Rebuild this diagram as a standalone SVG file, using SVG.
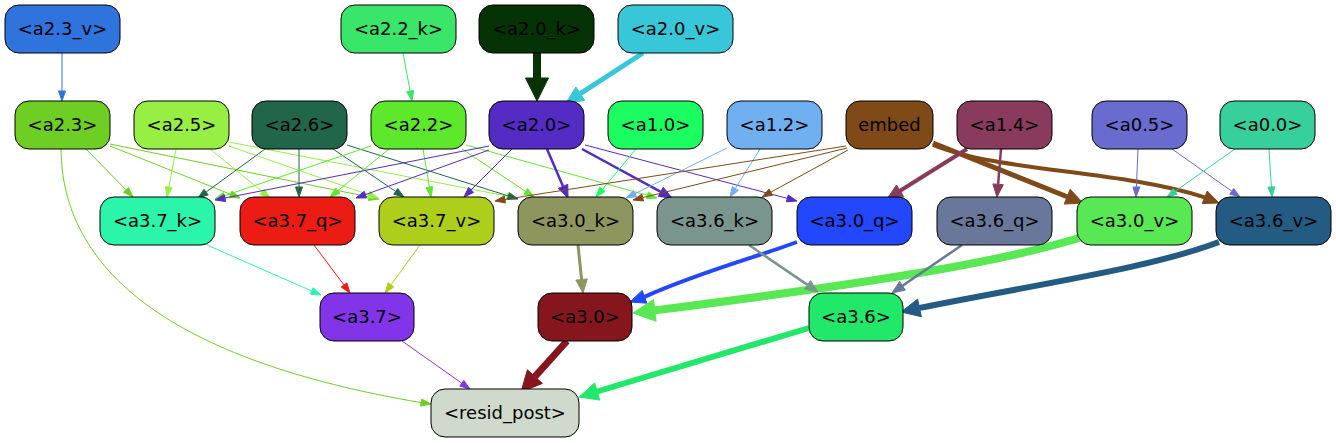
<svg xmlns="http://www.w3.org/2000/svg" width="1336" height="443" viewBox="0 0 1336 443">
<style>
.node rect{stroke:#000;stroke-width:1}
.node text{font-family:"DejaVu Sans","Liberation Sans",sans-serif;font-size:18px;text-anchor:middle;fill:#000}
#connectors path{fill:none}
</style>
<rect width="1336" height="443" fill="#fff"/>
<g id="connectors">
<g stroke="#2f74dd" fill="#2f74dd"><path d="M62,53 L62,91"/><polygon points="62,101 58.5,91 65.5,91"/></g>
<g stroke="#3ae66a" fill="#3ae66a"><path d="M403,53 L410.2,91.2"/><polygon points="412,101 406.7,91.8 413.6,90.5"/></g>
<g stroke="#063305" fill="#063305"><path d="M537,53 L537,78" stroke-width="8"/><polygon points="537,101 525.5,78 548.5,78"/></g>
<g stroke="#38c6d9" fill="#38c6d9"><path d="M643,53 L580.3,93.7" stroke-width="5"/><polygon points="566,103 575.9,87 584.7,100.4"/></g>
<g stroke="#6fce23" fill="#6fce23"><path d="M86,149 L126,189.9"/><polygon points="133,197 123.5,192.3 128.5,187.4"/></g>
<g stroke="#6fce23" fill="#6fce23"><path d="M110,146 L230.7,194.3"/><polygon points="240,198 229.4,197.5 232,191"/></g>
<g stroke="#6fce23" fill="#6fce23"><path d="M110,144 L369.2,197"/><polygon points="379,199 368.5,200.4 369.9,193.6"/></g>
<g stroke="#6fce23" fill="#6fce23"><path d="M61,149 C62,270 170,360 421.1,402.6"/><polygon points="431,404 420.6,406.1 421.6,399.1"/></g>
<g stroke="#97ef44" fill="#97ef44"><path d="M176,149 L168.8,187.2"/><polygon points="167,197 165.4,186.5 172.2,187.8"/></g>
<g stroke="#97ef44" fill="#97ef44"><path d="M210,149 L262.3,191.7"/><polygon points="270,198 260.1,194.4 264.5,189"/></g>
<g stroke="#97ef44" fill="#97ef44"><path d="M229,146 L368.6,194.7"/><polygon points="378,198 367.4,198 369.8,191.4"/></g>
<g stroke="#97ef44" fill="#97ef44"><path d="M229,142 L507.2,196.1"/><polygon points="517,198 506.5,199.5 507.9,192.7"/></g>
<g stroke="#21654a" fill="#21654a"><path d="M265,149 L206.1,192.1"/><polygon points="198,198 204,189.3 208.2,194.9"/></g>
<g stroke="#21654a" fill="#21654a"><path d="M299,149 L299,187"/><polygon points="299,197 295.5,187 302.5,187"/></g>
<g stroke="#21654a" fill="#21654a"><path d="M333,149 L395.7,191.4"/><polygon points="404,197 393.7,194.3 397.7,188.5"/></g>
<g stroke="#21654a" fill="#21654a"><path d="M347,145 L508.5,196"/><polygon points="518,199 507.4,199.3 509.5,192.7"/></g>
<g stroke="#5de82c" fill="#5de82c"><path d="M371,146 L224.5,195.8"/><polygon points="215,199 223.4,192.5 225.6,199.1"/></g>
<g stroke="#5de82c" fill="#5de82c"><path d="M389,149 L337.8,190.7"/><polygon points="330,197 335.6,188 340,193.4"/></g>
<g stroke="#5de82c" fill="#5de82c"><path d="M423,149 L429.4,187.1"/><polygon points="431,197 425.9,187.7 432.8,186.5"/></g>
<g stroke="#5de82c" fill="#5de82c"><path d="M462,149 L525.7,191.5"/><polygon points="534,197 523.8,194.4 527.6,188.6"/></g>
<g stroke="#5de82c" fill="#5de82c"><path d="M466,145 L647.4,195.3"/><polygon points="657,198 646.5,198.7 648.3,191.9"/></g>
<g stroke="#542cc4" fill="#542cc4"><path d="M489,146 L224.8,198.1"/><polygon points="215,200 224.1,194.7 225.5,201.5"/></g>
<g stroke="#542cc4" fill="#542cc4"><path d="M489,150 L365.4,194.6"/><polygon points="356,198 364.2,191.3 366.6,197.9"/></g>
<g stroke="#542cc4" fill="#542cc4"><path d="M513,148 L471.1,189.9"/><polygon points="464,197 468.6,187.4 473.6,192.4"/></g>
<g stroke="#542cc4" fill="#542cc4"><path d="M547,149 L563,186.3" stroke-width="2.5"/><polygon points="568,198 558.2,188.4 567.8,184.3"/></g>
<g stroke="#542cc4" fill="#542cc4"><path d="M582,149 L660.8,191.9" stroke-width="2.5"/><polygon points="672,198 658.3,196.5 663.3,187.3"/></g>
<g stroke="#542cc4" fill="#542cc4"><path d="M585,145 L787.3,198.4"/><polygon points="797,201 786.4,201.8 788.2,195"/></g>
<g stroke="#1cfd62" fill="#1cfd62"><path d="M636,149 L602.4,189.3"/><polygon points="596,197 599.7,187.1 605.1,191.5"/></g>
<g stroke="#70b0f0" fill="#70b0f0"><path d="M727,148 L635,193.6"/><polygon points="626,198 633.4,190.5 636.6,196.7"/></g>
<g stroke="#70b0f0" fill="#70b0f0"><path d="M760,149 L735.3,188.5"/><polygon points="730,197 732.3,186.6 738.3,190.4"/></g>
<g stroke="#804a18" fill="#804a18"><path d="M846,146 L504.9,199.4"/><polygon points="495,201 504.4,195.9 505.4,202.9"/></g>
<g stroke="#804a18" fill="#804a18"><path d="M847,148 L642.7,197.6"/><polygon points="633,200 641.9,194.2 643.5,201"/></g>
<g stroke="#804a18" fill="#804a18"><path d="M848,150 L770.8,192.2"/><polygon points="762,197 769.1,189.1 772.5,195.3"/></g>
<g stroke="#804a18" fill="#804a18"><path d="M933,143 L1067.2,196.7" stroke-width="5"/><polygon points="1083,203 1064.2,204.1 1070.2,189.3"/></g>
<g stroke="#804a18" fill="#804a18"><path d="M933,145 C1000,172 1120,170 1204.7,197.3" stroke-width="4"/><polygon points="1219,203 1202.2,203.6 1207.2,191"/></g>
<g stroke="#883b5c" fill="#883b5c"><path d="M967,149 L900.1,190.8" stroke-width="4"/><polygon points="887,199 896.5,185 903.7,196.6"/></g>
<g stroke="#883b5c" fill="#883b5c"><path d="M1001,149 L998.1,184.3" stroke-width="2.5"/><polygon points="997,197 992.9,183.9 1003.3,184.7"/></g>
<g stroke="#696bcf" fill="#696bcf"><path d="M1138,149 L1136.4,187"/><polygon points="1136,197 1132.9,187.1 1139.9,186.9"/></g>
<g stroke="#696bcf" fill="#696bcf"><path d="M1172,149 L1231.8,191.2"/><polygon points="1240,197 1229.8,194.1 1233.8,188.4"/></g>
<g stroke="#37cf9c" fill="#37cf9c"><path d="M1235,149 L1175.2,191.2"/><polygon points="1167,197 1173.2,188.4 1177.2,194.1"/></g>
<g stroke="#37cf9c" fill="#37cf9c"><path d="M1269,149 L1271.4,187"/><polygon points="1272,197 1267.9,187.2 1274.9,186.8"/></g>
<g stroke="#2af5aa" fill="#2af5aa"><path d="M207,245 L311.8,291"/><polygon points="321,295 310.4,294.2 313.2,287.8"/></g>
<g stroke="#eb1c14" fill="#eb1c14"><path d="M314,245 L344,285"/><polygon points="350,293 341.2,287.1 346.8,282.9"/></g>
<g stroke="#adce1a" fill="#adce1a"><path d="M420,245 L390.9,284.9"/><polygon points="385,293 388.1,282.8 393.7,287"/></g>
<g stroke="#8e955e" fill="#8e955e"><path d="M578,245 L581.6,279.5" stroke-width="3"/><polygon points="583,293 575.9,280.1 587.3,278.9"/></g>
<g stroke="#2247fc" fill="#2247fc"><path d="M797,242 C760,256 700,272 644.5,296.8" stroke-width="4"/><polygon points="630,302 642.2,290.4 646.8,303.2"/></g>
<g stroke="#57e854" fill="#57e854"><path d="M1079,238 C1000,262 880,282 654.8,310.4" stroke-width="8"/><polygon points="633,313 653.5,299.5 656.1,321.3"/></g>
<g stroke="#7a958e" fill="#7a958e"><path d="M749,245 L807.5,284.9" stroke-width="2.5"/><polygon points="818,292 804.6,289.2 810.4,280.6"/></g>
<g stroke="#69779a" fill="#69779a"><path d="M962,245 L902.5,285.8" stroke-width="2.5"/><polygon points="892,293 899.6,281.5 905.4,290.1"/></g>
<g stroke="#235b82" fill="#235b82"><path d="M1219,242 C1150,268 1050,282 919.5,307.9" stroke-width="6"/><polygon points="901,312 917.6,299.1 921.4,316.7"/></g>
<g stroke="#8235e8" fill="#8235e8"><path d="M402,341 L461.8,383.2"/><polygon points="470,389 459.8,386.1 463.8,380.4"/></g>
<g stroke="#86161e" fill="#86161e"><path d="M567,341 L534.9,376.6" stroke-width="7"/><polygon points="521,392 527.4,369.8 542.4,383.4"/></g>
<g stroke="#22e86a" fill="#22e86a"><path d="M809,328 L597.2,391.5" stroke-width="6"/><polygon points="579,397 594.6,382.9 599.8,400.1"/></g>
</g>
<g id="a2.3_v" class="node"><rect x="5" y="5" width="115" height="48" rx="14" fill="#2f74dd"/><text x="62.5" y="35">&lt;a2.3_v&gt;</text></g>
<g id="a2.2_k" class="node"><rect x="341" y="5" width="115" height="48" rx="14" fill="#3ae66a"/><text x="398.5" y="35">&lt;a2.2_k&gt;</text></g>
<g id="a2.0_k" class="node"><rect x="479" y="5" width="115" height="48" rx="14" fill="#063305"/><text x="536.5" y="35">&lt;a2.0_k&gt;</text></g>
<g id="a2.0_v" class="node"><rect x="618" y="5" width="115" height="48" rx="14" fill="#38c6d9"/><text x="675.5" y="35">&lt;a2.0_v&gt;</text></g>
<g id="a2.3" class="node"><rect x="15" y="101" width="95" height="48" rx="14" fill="#6fce23"/><text x="62.5" y="131">&lt;a2.3&gt;</text></g>
<g id="a2.5" class="node"><rect x="134" y="101" width="95" height="48" rx="14" fill="#97ef44"/><text x="181.5" y="131">&lt;a2.5&gt;</text></g>
<g id="a2.6" class="node"><rect x="252" y="101" width="95" height="48" rx="14" fill="#21654a"/><text x="299.5" y="131">&lt;a2.6&gt;</text></g>
<g id="a2.2" class="node"><rect x="371" y="101" width="95" height="48" rx="14" fill="#5de82c"/><text x="418.5" y="131">&lt;a2.2&gt;</text></g>
<g id="a2.0" class="node"><rect x="489" y="101" width="95" height="48" rx="14" fill="#542cc4"/><text x="536.5" y="131">&lt;a2.0&gt;</text></g>
<g id="a1.0" class="node"><rect x="608" y="101" width="95" height="48" rx="14" fill="#1cfd62"/><text x="655.5" y="131">&lt;a1.0&gt;</text></g>
<g id="a1.2" class="node"><rect x="727" y="101" width="95" height="48" rx="14" fill="#70b0f0"/><text x="774.5" y="131">&lt;a1.2&gt;</text></g>
<g id="embed" class="node"><rect x="846" y="101" width="87" height="48" rx="14" fill="#804a18"/><text x="889.5" y="131">embed</text></g>
<g id="a1.4" class="node"><rect x="957" y="101" width="95" height="48" rx="14" fill="#883b5c"/><text x="1004.5" y="131">&lt;a1.4&gt;</text></g>
<g id="a0.5" class="node"><rect x="1092" y="101" width="95" height="48" rx="14" fill="#696bcf"/><text x="1139.5" y="131">&lt;a0.5&gt;</text></g>
<g id="a0.0" class="node"><rect x="1220" y="101" width="95" height="48" rx="14" fill="#37cf9c"/><text x="1267.5" y="131">&lt;a0.0&gt;</text></g>
<g id="a3.7_k" class="node"><rect x="100" y="197" width="115" height="48" rx="14" fill="#2af5aa"/><text x="157.5" y="227">&lt;a3.7_k&gt;</text></g>
<g id="a3.7_q" class="node"><rect x="240" y="197" width="115" height="48" rx="14" fill="#eb1c14"/><text x="297.5" y="227">&lt;a3.7_q&gt;</text></g>
<g id="a3.7_v" class="node"><rect x="379" y="197" width="115" height="48" rx="14" fill="#adce1a"/><text x="436.5" y="227">&lt;a3.7_v&gt;</text></g>
<g id="a3.0_k" class="node"><rect x="518" y="197" width="115" height="48" rx="14" fill="#8e955e"/><text x="575.5" y="227">&lt;a3.0_k&gt;</text></g>
<g id="a3.6_k" class="node"><rect x="657" y="197" width="115" height="48" rx="14" fill="#7a958e"/><text x="714.5" y="227">&lt;a3.6_k&gt;</text></g>
<g id="a3.0_q" class="node"><rect x="797" y="197" width="115" height="48" rx="14" fill="#2247fc"/><text x="854.5" y="227">&lt;a3.0_q&gt;</text></g>
<g id="a3.6_q" class="node"><rect x="937" y="197" width="115" height="48" rx="14" fill="#69779a"/><text x="994.5" y="227">&lt;a3.6_q&gt;</text></g>
<g id="a3.0_v" class="node"><rect x="1077" y="197" width="115" height="48" rx="14" fill="#57e854"/><text x="1134.5" y="227">&lt;a3.0_v&gt;</text></g>
<g id="a3.6_v" class="node"><rect x="1216" y="197" width="115" height="48" rx="14" fill="#235b82"/><text x="1273.5" y="227">&lt;a3.6_v&gt;</text></g>
<g id="a3.7" class="node"><rect x="320" y="293" width="94" height="48" rx="14" fill="#8235e8"/><text x="367" y="323">&lt;a3.7&gt;</text></g>
<g id="a3.0" class="node"><rect x="538" y="293" width="94" height="48" rx="14" fill="#86161e"/><text x="585" y="323">&lt;a3.0&gt;</text></g>
<g id="a3.6" class="node"><rect x="809" y="293" width="94" height="48" rx="14" fill="#22e86a"/><text x="856" y="323">&lt;a3.6&gt;</text></g>
<g id="resid_post" class="node"><rect x="431" y="389" width="148" height="48" rx="14" fill="#cfd9cc"/><text x="505" y="419">&lt;resid_post&gt;</text></g>
</svg>
